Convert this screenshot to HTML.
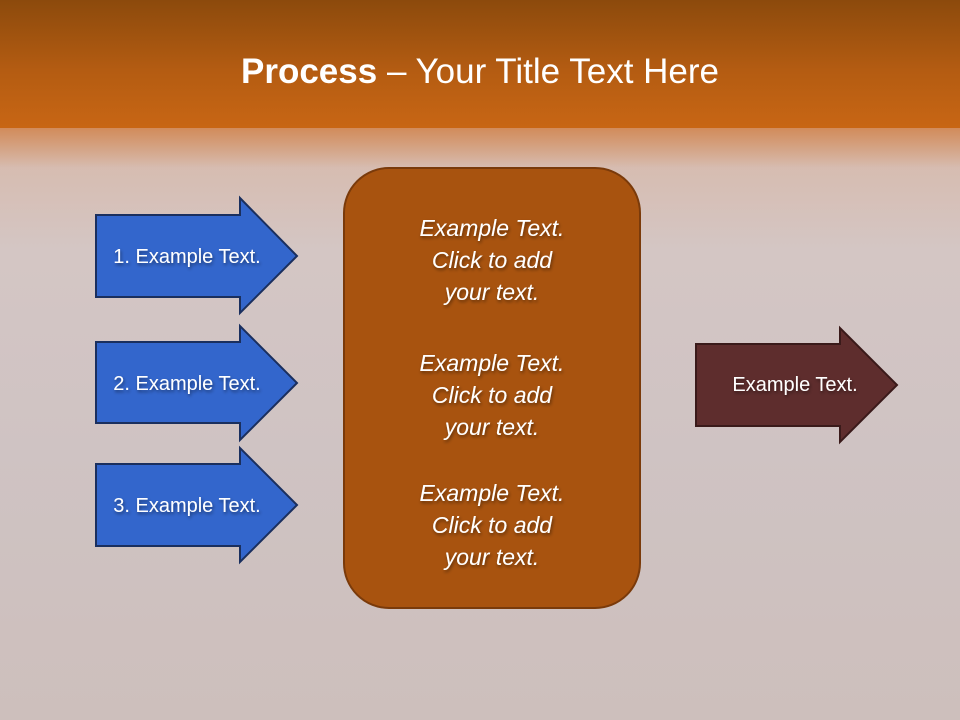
<!DOCTYPE html>
<html><head><style>
html,body{margin:0;padding:0}
body{width:960px;height:720px;position:relative;overflow:hidden;font-family:"Liberation Sans",sans-serif;
background:linear-gradient(180deg,#d8b8a8 130px,#d4c6c4 250px,#cfc3c3 450px,#cdbfbc 720px);}
.hdr{position:absolute;left:0;top:0;width:960px;height:128px;background:linear-gradient(180deg,#8c4a0c,#b45c12 55%,#c86614);}
.fade{position:absolute;left:0;top:128px;width:960px;height:40px;background:linear-gradient(180deg,rgba(205,110,40,.6),rgba(205,110,40,0));}
.title{position:absolute;top:52px;width:960px;text-align:center;color:#fff;font-size:35px;}
svg{position:absolute;left:0;top:0}
.t{fill:#fff;font-size:20px;text-anchor:middle}
.r{fill:#fff;font-size:20px;text-anchor:middle}
.c{fill:#fff;font-size:23px;font-style:italic;text-anchor:middle}
</style></head><body>
<div class="hdr"></div><div class="fade"></div>
<div class="title"><b>Process</b> – Your Title Text Here</div>
<svg width="960" height="720">
<defs><filter id="s"><feDropShadow dx="1" dy="2" stdDeviation="1.5" flood-color="#000" flood-opacity=".45"/></filter></defs>
<g stroke="#1a2f5e" stroke-width="2" fill="#3366cc">
<polygon points="96,215 240,215 240,198 297,256 240,313 240,297 96,297"/>
<polygon points="96,342 240,342 240,326 297,383 240,440 240,423 96,423"/>
<polygon points="96,464 240,464 240,448 297,505 240,562 240,546 96,546"/>
</g>
<polygon points="696,344 840,344 840,328 897,385 840,442 840,426 696,426" fill="#5e2d2d" stroke="#3a1a1a" stroke-width="2"/>
<rect x="344" y="168" width="296" height="440" rx="45" fill="#a8530f" stroke="#7a3a0a" stroke-width="2"/>
<g filter="url(#s)">
<text class="t" x="187" y="263">1. Example Text.</text>
<text class="t" x="187" y="390">2. Example Text.</text>
<text class="t" x="187" y="512">3. Example Text.</text>
<text class="r" x="795" y="391">Example Text.</text>
<text class="c" x="492" y="236">Example Text.</text>
<text class="c" x="492" y="268">Click  to add</text>
<text class="c" x="492" y="300">your text.</text>
<text class="c" x="492" y="371">Example Text.</text>
<text class="c" x="492" y="403">Click  to add</text>
<text class="c" x="492" y="435">your text.</text>
<text class="c" x="492" y="501">Example Text.</text>
<text class="c" x="492" y="533">Click  to add</text>
<text class="c" x="492" y="565">your text.</text>
</g>
</svg>
</body></html>
